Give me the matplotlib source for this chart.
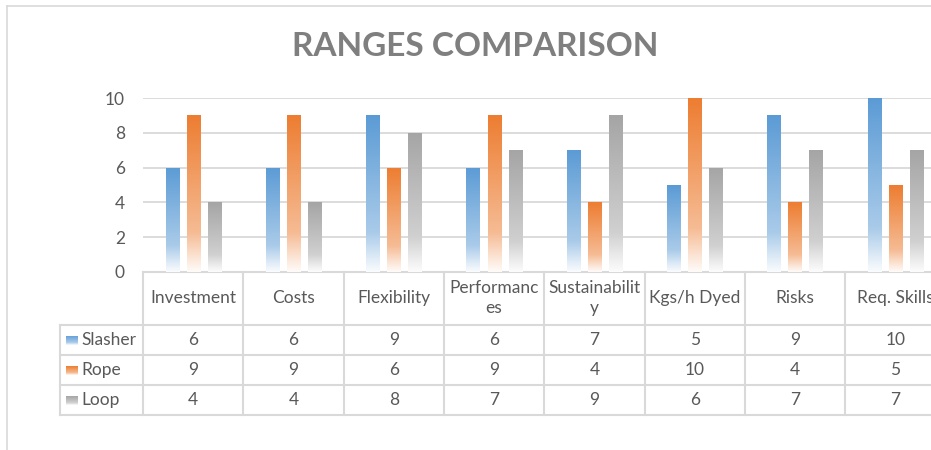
import numpy as np
import matplotlib.pyplot as plt
from matplotlib.colors import to_rgb
from matplotlib.transforms import blended_transform_factory
from matplotlib.lines import Line2D

plt.rcParams['font.family'] = ['Lato', 'DejaVu Sans']

# Data
categories = ["Investment", "Costs", "Flexibility", "Performances",
              "Sustainability", "Kgs/h Dyed", "Risks", "Req. Skills"]
header_labels = ["Investment", "Costs", "Flexibility", "Performanc\nes",
                 "Sustainabilit\ny", "Kgs/h Dyed", "Risks", "Req. Skills"]
series_names = ["Slasher", "Rope", "Loop"]
slasher = [6, 6, 9, 6, 7, 5, 9, 10]
rope = [9, 9, 6, 9, 4, 10, 4, 5]
loop = [4, 4, 8, 7, 9, 6, 7, 7]
y_ticks = [0, 2, 4, 6, 8, 10]

series = [slasher, rope, loop]
colors = ["#5B9BD5", "#ED7D31", "#A5A5A5"]
text_col = "#595959"
line_col = "#D9D9D9"

W, H = 931, 450


def fy(py):
    return 1 - py / H


def gradient(color, n=256):
    c = np.array(to_rgb(color))
    t = np.linspace(0, 1, n)  # 0 = bottom, 1 = top
    w = np.interp(t, [0, 0.08, 0.18, 0.25, 1], [0.97, 0.82, 0.62, 0.48, 0.0])
    rgb = c[None, :] * (1 - w[:, None]) + w[:, None]
    return rgb[:, None, :]


fig = plt.figure(figsize=(W / 100, H / 100), dpi=100)
ax = fig.add_axes([143 / W, fy(272), 802.4 / W, 174 / H])
ax.set_xlim(-0.5, len(categories) - 0.5)
ax.set_ylim(0, 10)

x = np.arange(len(categories))
offsets = [-0.21, 0, 0.21]
bw = 0.13
for vals, off, col in zip(series, offsets, colors):
    bars = ax.bar(x + off, vals, width=bw, color='none', zorder=3)
    for b in bars:
        x0 = b.get_x()
        h = b.get_height()
        im = ax.imshow(gradient(col), extent=[x0, x0 + bw, 0, h],
                       origin='lower', aspect='auto', zorder=3,
                       interpolation='bilinear')
        im.set_clip_path(b)
ax.set_xlim(-0.5, len(categories) - 0.5)
ax.set_ylim(0, 10)

ax.set_yticks(y_ticks)
ax.set_xticks([])
ax.tick_params(axis='y', length=0, pad=13, labelsize=12.5, labelcolor=text_col)
ax.grid(axis='y', color=line_col, linewidth=1.3, zorder=0)
for s in ['left', 'right', 'top']:
    ax.spines[s].set_visible(False)
ax.spines['bottom'].set_color(line_col)
ax.spines['bottom'].set_linewidth(1.5)

# Title
fig.text(475 / W, fy(47), "RANGES COMPARISON", ha='center', va='center',
         fontsize=24, fontweight='bold', color='#7F7F7F')

# Chart border
fig.add_artist(Line2D([7 / W, 7 / W], [fy(6), 0], transform=fig.transFigure,
                      color=line_col, lw=1.2))
fig.add_artist(Line2D([7 / W, 1], [fy(6), fy(6)], transform=fig.transFigure,
                      color=line_col, lw=1.2))

# Data table
tr = blended_transform_factory(ax.transData, fig.transFigure)
row_tops = [325, 355, 385, 415]
n = len(categories)
for i in range(n + 1):
    fig.add_artist(Line2D([i - 0.5, i - 0.5], [fy(272), fy(415)], transform=tr,
                          color=line_col, lw=1.5))
for py in row_tops:
    fig.add_artist(Line2D([60 / W, 1], [fy(py), fy(py)], transform=fig.transFigure,
                          color=line_col, lw=1.5))
fig.add_artist(Line2D([60 / W, 60 / W], [fy(325), fy(415)], transform=fig.transFigure,
                      color=line_col, lw=1.5))

# header labels
for i, lab in enumerate(header_labels):
    fig.text(i, fy(298), lab, transform=tr, ha='center', va='center',
             fontsize=12.5, color=text_col, linespacing=1.35)

# rows
for r, (name, vals, col) in enumerate(zip(series_names, series, colors)):
    cy = (row_tops[r] + row_tops[r + 1]) / 2
    sw = fig.add_axes([66 / W, fy(cy + 5), 12 / W, 9 / H])
    sw.imshow(gradient(col), origin='lower', aspect='auto', extent=[0, 1, 0, 1])
    sw.axis('off')
    fig.text(81 / W, fy(cy), name, ha='left', va='center',
             fontsize=12.5, color=text_col)
    for i, v in enumerate(vals):
        fig.text(i, fy(cy), str(v), transform=tr, ha='center', va='center',
                 fontsize=12.5, color=text_col)

fig.savefig("out.png", dpi=100)
